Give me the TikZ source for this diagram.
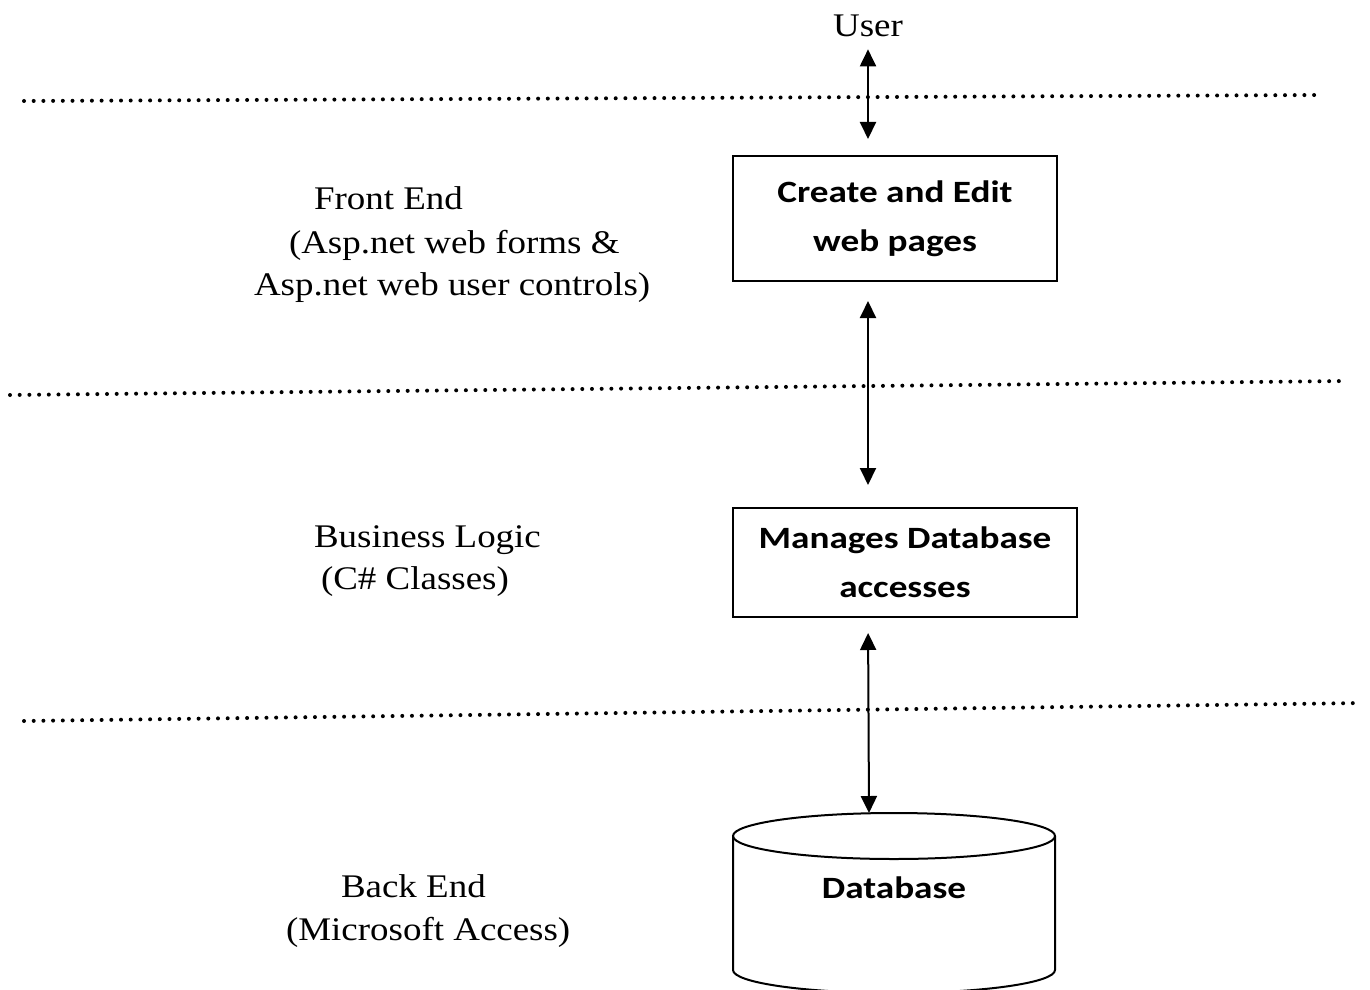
\documentclass[tikz,border=0pt]{standalone}
\usepackage{fontspec}
\setmainfont{Liberation Serif}[FakeStretch=1.12]
\newfontfamily\boxfont{Carlito}[FakeStretch=1.2]
\usetikzlibrary{arrows.meta}

\begin{document}
\begin{tikzpicture}[x=0.5pt,y=-0.5pt,line width=1pt,
  link/.style={{Triangle[length=8.5pt,width=8pt]}-{Triangle[length=8.5pt,width=8pt]}},
  layer/.style={line width=2pt,line cap=round,dash pattern=on 0pt off 4.85pt},
  lbl/.style={anchor=base west,inner sep=0pt,font=\fontsize{16.5}{21.5}\selectfont},
  proc/.style={draw,align=center,font=\boxfont\bfseries\fontsize{15.5}{24.5}\selectfont}]
\useasboundingbox (0,0) rectangle (1370,990);

% layer separators
\draw[layer] (24,101) -- (1322,95);
\draw[layer] (10,395) -- (1348,381);
\draw[layer] (24,721) -- (1362,703);

\node[lbl,anchor=base] (user) at (868,37) {User};
\node[proc,minimum width=162pt,minimum height=62.5pt] (web) at (895,218.5) {Create and Edit\\web pages};
\node[proc,minimum width=172pt,minimum height=54.5pt] (mgr) at (905,562.5) {Manages Database\\accesses};

% database cylinder
\draw (733,836) -- (733,970) arc[start angle=180,end angle=360,x radius=80.5pt,y radius=11.5pt] -- (1055,836);
\draw (894,836) ellipse[x radius=80.5pt,y radius=11.5pt];
\coordinate (dbtop) at (869,813);
\node[anchor=base,font=\boxfont\bfseries\fontsize{15.5}{24.5}\selectfont] (db) at (894,898) {Database};

\node[lbl] (fe1) at (313,209) {Front End};
\node[lbl] (fe2) at (288,253) {(Asp.net web forms \&};
\node[lbl] (fe3) at (253,295) {Asp.net web user controls)};
\node[lbl] (bl1) at (313,547) {Business Logic};
\node[lbl] (bl2) at (320,589) {(C\# Classes)};
\node[lbl] (be1) at (340,897) {Back End};
\node[lbl] (be2) at (285,940) {(Microsoft Access)};

\draw[link,shorten <=5.5pt,shorten >=8pt] (user.south) -- (user.south |- web.north);
\draw[link,shorten <=9.5pt,shorten >=11pt] (user.south |- web.south) -- (user.south |- mgr.north);
\draw[link,shorten <=7.5pt] (user.south |- mgr.south) -- (dbtop);
\end{tikzpicture}
\end{document}
